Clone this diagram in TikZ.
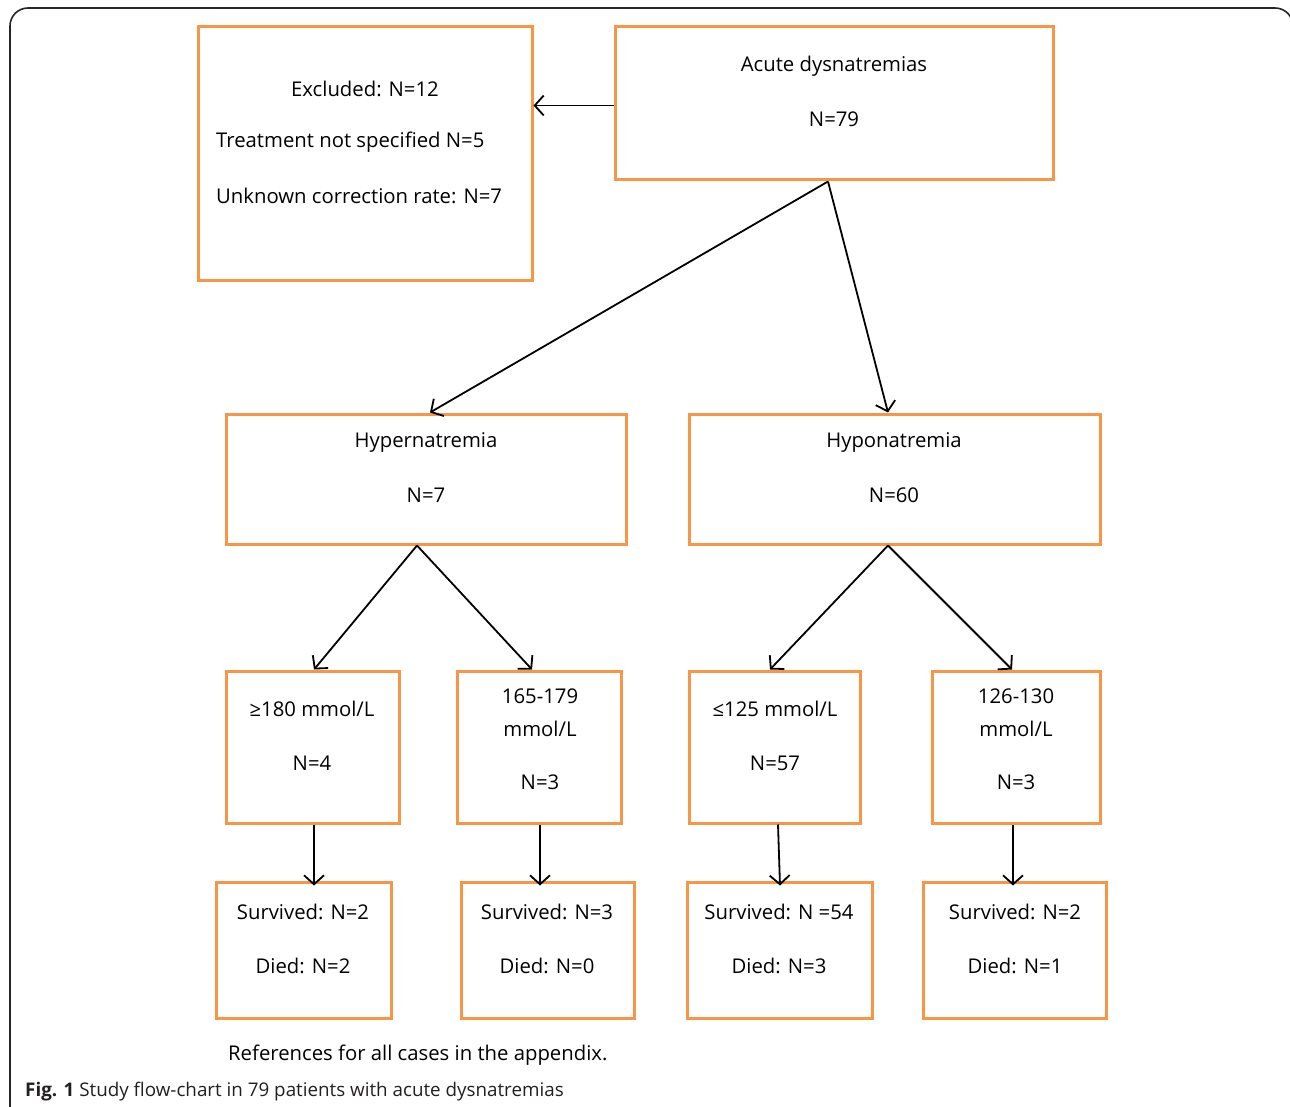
\documentclass[tikz,border=0pt]{standalone}
\usepackage{fontspec}
\setmainfont{Open Sans}
\usetikzlibrary{arrows.meta,calc}
\definecolor{boxorange}{HTML}{F79646}
\definecolor{captxt}{HTML}{231F20}
\begin{document}
\begin{tikzpicture}[x=1pt,y=-1pt,
  box/.style={draw=boxorange,line width=3pt,rectangle,inner sep=0pt},
  txt/.style={inner sep=0pt,font=\fontsize{20.3}{23}\selectfont,anchor=center},
  ltxt/.style={inner sep=0pt,font=\fontsize{20.3}{23}\selectfont,anchor=west},
  conn/.style={draw=black,line width=1.8pt,-{Straight Barb[length=9pt,width=20pt,line width=1.8pt]}}]
\useasboundingbox (0,0) rectangle (1290,1107);
% outer frame
\draw[line width=1.6pt,draw=black!85,rounded corners=18pt] (10,1110) -- (10,8) -- (1293,8) -- (1293,1110);
% boxes
\node[box,minimum width=334pt,minimum height=254pt] (excl) at (365,154) {};
\node[box,minimum width=438pt,minimum height=153pt] (acute) at (834,103.5) {};
\node[box,minimum width=400pt,minimum height=130pt] (hyper) at (426,479) {};
\node[box,minimum width=411pt,minimum height=130pt] (hypo) at (894.5,479) {};
\node[box,minimum width=173pt,minimum height=152pt] (g180) at (312.5,747) {};
\node[box,minimum width=164pt,minimum height=152pt] (r165) at (539,747) {};
\node[box,minimum width=171pt,minimum height=152pt] (l125) at (774.5,747) {};
\node[box,minimum width=168pt,minimum height=152pt] (r126) at (1016,747) {};
\node[box,minimum width=175pt,minimum height=136pt] (s1) at (303.5,950) {};
\node[box,minimum width=173pt,minimum height=136pt] (s2) at (547.5,950) {};
\node[box,minimum width=185pt,minimum height=136pt] (s3) at (779.5,950) {};
\node[box,minimum width=183pt,minimum height=136pt] (s4) at (1014.5,950) {};
% texts
\node[txt] (t1) at (365,89) {Excluded: N=12};
\node[ltxt] (t2) at (216,142) {Treatment not specified N=5};
\node[ltxt] (t3) at (216,196) {Unknown correction rate: N=7};
\node[txt] (t4) at (834,66) {Acute dysnatremias};
\node[txt] (t5) at (834,119) {N=79};
\node[txt] (t6) at (426,442) {Hypernatremia};
\node[txt] (t7) at (426,495) {N=7};
\node[txt] (t8) at (894,442) {Hyponatremia};
\node[txt] (t9) at (894,495) {N=60};
\node[txt] (t10) at (312,709) {≥180 mmol/L};
\node[txt] (t11) at (312,763) {N=4};
\node[txt] (t12) at (540,696) {165-179};
\node[txt] (t13) at (540,729) {mmol/L};
\node[txt] (t14) at (540,782) {N=3};
\node[txt] (t15) at (775,709) {≤125 mmol/L};
\node[txt] (t16) at (775,763) {N=57};
\node[txt] (t17) at (1016,696) {126-130};
\node[txt] (t18) at (1016,729) {mmol/L};
\node[txt] (t19) at (1016,782) {N=3};
\node[txt] (t20) at (303,912) {Survived: N=2};
\node[txt] (t21) at (303,966) {Died: N=2};
\node[txt] (t22) at (547,912) {Survived: N=3};
\node[txt] (t23) at (547,966) {Died: N=0};
\node[txt] (t24) at (779,912) {Survived: N =54};
\node[txt] (t25) at (779,966) {Died: N=3};
\node[txt] (t26) at (1015,912) {Survived: N=2};
\node[txt] (t27) at (1015,966) {Died: N=1};
\node[ltxt] (ref) at (228,1055) {References for all cases in the appendix.};
\node[inner sep=0pt,anchor=west,font=\fontsize{18.8}{21}\selectfont,text=captxt] (cap) at (25,1092) {\textbf{Fig. 1} Study flow-chart in 79 patients with acute dysnatremias};
% connectors
\draw[conn] ([yshift=-2pt]acute.west) -- ([yshift=-2pt]acute.west -| excl.east);
\draw[conn] ([xshift=-6pt]acute.south) -- ([xshift=4pt]hyper.north);
\draw[conn] ([xshift=-6pt]acute.south) -- ([xshift=-6.5pt]hypo.north);
\draw[conn] ([xshift=-9pt]hyper.south) -- ([xshift=1.5pt]g180.north);
\draw[conn] ([xshift=-9pt]hyper.south) -- ([xshift=-7pt]r165.north);
\draw[conn] ([xshift=-6.5pt]hypo.south) -- ([xshift=-4.5pt]l125.north);
\draw[conn] ([xshift=-6.5pt]hypo.south) -- ([xshift=-4pt]r126.north);
\draw[conn] ([xshift=1.5pt]g180.south) -- ([xshift=10.5pt,yshift=-5pt]s1.north);
\draw[conn] ([xshift=1pt]r165.south) -- ([xshift=-7.5pt,yshift=-5pt]s2.north);
\draw[conn] ([xshift=3.5pt]l125.south) -- ([xshift=0.5pt,yshift=-5pt]s3.north);
\draw[conn] ([xshift=-3pt]r126.south) -- ([xshift=-1.5pt,yshift=-5pt]s4.north);
\end{tikzpicture}
\end{document}
